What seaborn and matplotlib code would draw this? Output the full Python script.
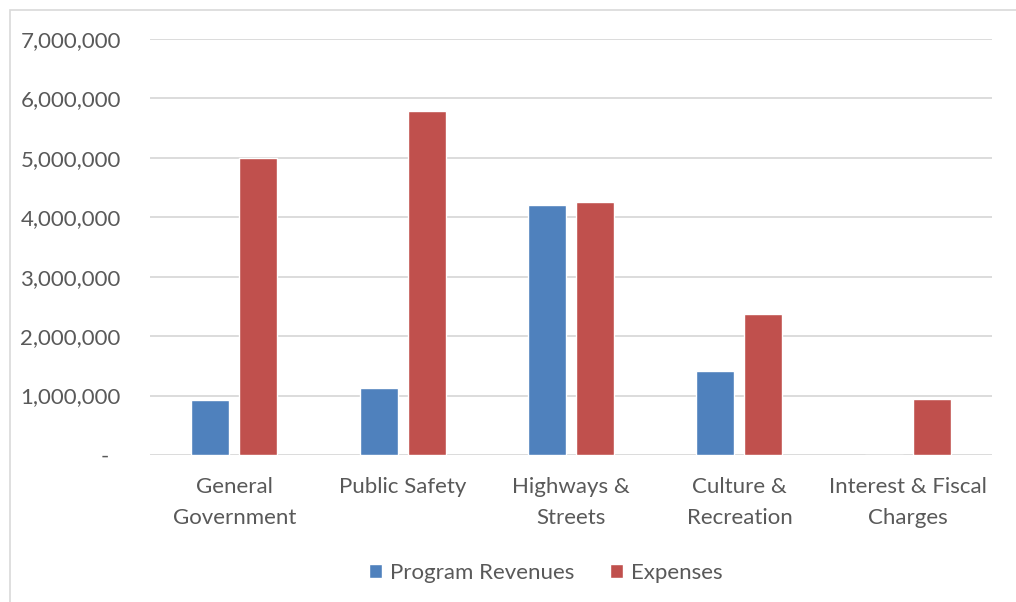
import numpy as np
import pandas as pd
import seaborn as sns
import matplotlib.pyplot as plt
from matplotlib.patches import Rectangle
from matplotlib.ticker import FuncFormatter

categories = ["General\nGovernment", "Public Safety", "Highways &\nStreets",
              "Culture &\nRecreation", "Interest & Fiscal\nCharges"]
program_revenues = [925000, 1130000, 4200000, 1420000, 0]
expenses = [5000000, 5790000, 4250000, 2380000, 950000]
series_names = ["Program Revenues", "Expenses"]
colors = ["#4F81BD", "#C0504D"]

df = pd.DataFrame({
    "category": categories * 2,
    "series": [series_names[0]] * len(categories) + [series_names[1]] * len(categories),
    "value": program_revenues + expenses,
})

sns.set_theme(style="white")
plt.rcParams['font.family'] = ['Lato', 'DejaVu Sans']
text_color = "#595959"
grid_color = "#D9D9D9"

fig = plt.figure(figsize=(10.16, 6.02), dpi=100)
ax = fig.add_axes([150 / 1016, 1 - 455 / 602, (992 - 150) / 1016, (455 - 39) / 602])

sns.barplot(data=df, x="category", y="value", hue="series", palette=colors,
            width=0.571, gap=0.208, saturation=1, ax=ax, legend=True)

ax.set_ylim(0, 7000000)
ax.set_xlim(-0.5, len(categories) - 0.5)
ax.set_yticks(np.arange(0, 7000001, 1000000))
ax.yaxis.set_major_formatter(FuncFormatter(lambda v, p: "-  " if v == 0 else f"{int(v):,}"))
ax.grid(axis="y", color=grid_color, linewidth=1.3)
ax.set_axisbelow(True)
for s in ax.spines.values():
    s.set_visible(False)
ax.tick_params(axis="y", length=0, pad=21, labelsize=16, labelcolor=text_color)
ax.tick_params(axis="x", length=0, pad=16, labelsize=16, labelcolor=text_color)
for lbl in ax.get_xticklabels():
    lbl.set_linespacing(1.65)
ax.set_xlabel("")
ax.set_ylabel("")

handles, labels = ax.get_legend_handles_labels()
ax.get_legend().remove()
fig.legend(handles, labels, loc="center", bbox_to_anchor=(546 / 1016, 1 - 573 / 602),
           ncol=2, frameon=False, fontsize=16, labelcolor=text_color,
           handlelength=0.6, handleheight=0.6, handletextpad=0.35, columnspacing=1.6)

fig.patches.append(Rectangle((10 / 1016, -0.1), 1.1, 1 - 10 / 602 + 0.1,
                             transform=fig.transFigure, fill=False,
                             edgecolor=grid_color, linewidth=1.2))

fig.savefig("out.png", dpi=100)
